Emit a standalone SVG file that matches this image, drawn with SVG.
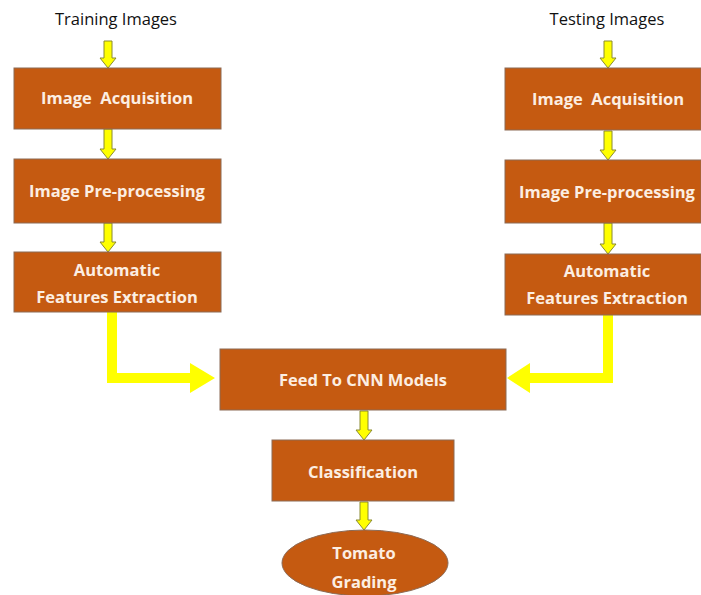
<svg xmlns="http://www.w3.org/2000/svg" width="701" height="595" viewBox="0 0 701 595">
<style>
.box{fill:#C55A11;stroke:#8C6A55;stroke-width:1}
.lbl{font-family:"Open Sans","Liberation Sans",sans-serif;font-weight:bold;font-size:16.5px;fill:#FCEEE2;text-anchor:middle;white-space:pre}
.ttl{font-family:"Open Sans","Liberation Sans",sans-serif;font-size:16.5px;fill:#111;text-anchor:middle}
.sa{fill:#FFFF00;stroke:#8A8A30;stroke-width:1}
.ba{fill:#FFFF00;stroke:none}
</style>
<rect width="701" height="595" fill="#fff"/>
<g id="connectors">
<polygon class="sa" points="104,41 112,41 112,58 116,58 108,68 100,58 104,58"/>
<polygon class="sa" points="104,129 112,129 112,149 116,149 108,159 100,149 104,149"/>
<polygon class="sa" points="104,223 112,223 112,242 116,242 108,252 100,242 104,242"/>
<polygon class="sa" points="604,41 612,41 612,58 616,58 608,68 600,58 604,58"/>
<polygon class="sa" points="604,131 612,131 612,150 616,150 608,160 600,150 604,150"/>
<polygon class="sa" points="604,223 612,223 612,244 616,244 608,254 600,244 604,244"/>
<polygon class="ba" points="107,312 117,312 117,373 190,373 190,363 215,378 190,393 190,383 107,383"/>
<polygon class="ba" points="603,315 613,315 613,383 530,383 530,393 507,378 530,363 530,373 603,373"/>
<polygon class="sa" points="360,411 368,411 368,430 372,430 364,440 356,430 360,430"/>
<polygon class="sa" points="360,502 368,502 368,520 372,520 364,530 356,520 360,520"/>
</g>
<g id="title-training"><text class="ttl" x="116" y="25">Training Images</text></g>
<g id="title-testing"><text class="ttl" x="607" y="25">Testing Images</text></g>
<g id="train-acq"><rect class="box" x="14" y="68" width="207" height="61"/><text class="lbl" x="117" y="104">Image  Acquisition</text></g>
<g id="train-pre"><rect class="box" x="14" y="159" width="207" height="64"/><text class="lbl" x="117" y="197">Image Pre-processing</text></g>
<g id="train-feat"><rect class="box" x="14" y="252" width="207" height="60"/><text class="lbl" x="117" y="276">Automatic</text><text class="lbl" x="117" y="303">Features Extraction</text></g>
<g id="test-acq"><rect class="box" x="505" y="68" width="196" height="62"/><text class="lbl" x="608" y="105">Image  Acquisition</text></g>
<g id="test-pre"><rect class="box" x="505" y="160" width="196" height="63"/><text class="lbl" x="607" y="198">Image Pre-processing</text></g>
<g id="test-feat"><rect class="box" x="505" y="254" width="196" height="61"/><text class="lbl" x="607" y="277">Automatic</text><text class="lbl" x="607" y="304">Features Extraction</text></g>
<g id="cnn"><rect class="box" x="220" y="349" width="286" height="61"/><text class="lbl" x="363" y="386">Feed To CNN Models</text></g>
<g id="classification"><rect class="box" x="272" y="440" width="182" height="61"/><text class="lbl" x="363" y="478">Classification</text></g>
<g id="grading"><ellipse class="box" cx="365" cy="563" rx="83" ry="33"/><text class="lbl" x="364" y="559">Tomato</text><text class="lbl" x="364" y="588">Grading</text></g>
</svg>
